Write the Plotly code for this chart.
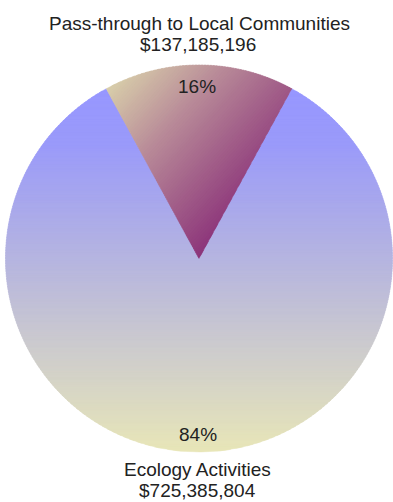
import numpy as np
import plotly.graph_objects as go

# Budget split
categories = ["Ecology Activities", "Pass-through to Local Communities"]
amounts = [725385804, 137185196]

W, H = 393, 502
CX, CY, R = 199.0, 258.5, 193.5          # pie centre / radius in pixel units (y grows downward)
FONT = "Liberation Sans, Arial, sans-serif"
TEXT_COLOR = "#222222"

total = float(sum(amounts))
fracs = [a / total for a in amounts]

# Slice angles, measured clockwise from 12 o'clock; the small slice is centred at the top
half_small = fracs[1] * 360.0 / 2.0
spans = {
    categories[1]: (-half_small, half_small),
    categories[0]: (half_small, 360.0 - half_small),
}


def sector_polygon(a0, a1, n=600):
    th = np.radians(np.linspace(a0, a1, n))
    xs = CX + R * np.sin(th)
    ys = CY - R * np.cos(th)
    return [(CX, CY)] + list(zip(xs, ys))


def clip_halfplane(poly, nx, ny, c):
    """Keep the part of poly with nx*x + ny*y >= c (Sutherland-Hodgman)."""
    out = []
    if not poly:
        return out
    n = len(poly)
    for i in range(n):
        p, q = poly[i], poly[(i + 1) % n]
        dp = nx * p[0] + ny * p[1] - c
        dq = nx * q[0] + ny * q[1] - c
        if dp >= 0:
            out.append(p)
        if (dp >= 0) != (dq >= 0):
            t = dp / (dp - dq)
            out.append((p[0] + t * (q[0] - p[0]), p[1] + t * (q[1] - p[1])))
    return out


def interp_color(stops, t):
    t = min(max(t, 0.0), 1.0)
    for (t0, c0), (t1, c1) in zip(stops[:-1], stops[1:]):
        if t <= t1:
            u = 0.0 if t1 == t0 else (t - t0) / (t1 - t0)
            rgb = [round(a + u * (b - a)) for a, b in zip(c0, c1)]
            return f"rgb({rgb[0]},{rgb[1]},{rgb[2]})"
    c = stops[-1][1]
    return f"rgb({c[0]},{c[1]},{c[2]})"


def gradient_traces(poly, direction, stops, nbands, name):
    dx, dy = direction
    L = np.hypot(dx, dy)
    dx, dy = dx / L, dy / L
    proj = [dx * x + dy * y for x, y in poly]
    lo, hi = min(proj), max(proj)
    step = (hi - lo) / nbands
    traces = []
    for i in range(nbands):
        a = lo + i * step
        b = a + step * 1.6 if i < nbands - 1 else hi + 1
        part = clip_halfplane(poly, dx, dy, a - (0.5 if i == 0 else 0))
        part = clip_halfplane(part, -dx, -dy, -b)
        if len(part) < 3:
            continue
        col = interp_color(stops, (a + step / 2 - lo) / (hi - lo))
        xs = [p[0] for p in part] + [part[0][0]]
        ys = [p[1] for p in part] + [part[0][1]]
        traces.append(go.Scatter(
            x=xs, y=ys, mode="lines", fill="toself", fillcolor=col,
            line=dict(width=0.4, color=col), hoverinfo="skip",
            showlegend=False, name=name,
        ))
    return traces


fig = go.Figure()

# Large slice: vertical gradient, lavender-blue at top to pale khaki at bottom
big_stops = [
    (0.00, (151, 151, 255)),
    (0.15, (154, 154, 250)),
    (0.52, (186, 185, 220)),
    (1.00, (232, 230, 184)),
]
a0, a1 = spans[categories[0]]
for tr in gradient_traces(sector_polygon(a0, a1), (0, 1), big_stops, 140, categories[0]):
    fig.add_trace(tr)

# Small slice: diagonal gradient, tan at upper left to plum at the centre point
small_stops = [
    (0.00, (216, 206, 170)),
    (0.40, (184, 138, 152)),
    (1.00, (140, 52, 122)),
]
a0, a1 = spans[categories[1]]
for tr in gradient_traces(sector_polygon(a0, a1), (1.0, 0.9), small_stops, 80, categories[1]):
    fig.add_trace(tr)

# Labels
annotations = []


def add_text(x, y, text):
    annotations.append(dict(
        x=x, y=y, xref="x", yref="y", text=text, showarrow=False,
        xanchor="center", yanchor="middle",
        font=dict(family=FONT, size=19, color=TEXT_COLOR),
    ))


pct = [f"{round(100 * f)}%" for f in fracs]
money = [f"${a:,}" for a in amounts]

# Pass-through (top)
add_text(199, 23, categories[1])
add_text(198, 44, money[1])
add_text(197, 86, pct[1])
# Ecology (bottom)
add_text(198, 434, pct[0])
add_text(197, 469, categories[0])
add_text(197, 490, money[0])

fig.update_layout(
    width=W, height=H,
    margin=dict(l=0, r=0, t=0, b=0),
    paper_bgcolor="white", plot_bgcolor="white",
    showlegend=False,
    annotations=annotations,
    xaxis=dict(range=[0, W], visible=False, fixedrange=True),
    yaxis=dict(range=[H, 0], visible=False, fixedrange=True),
)

fig.write_html("out.html")
